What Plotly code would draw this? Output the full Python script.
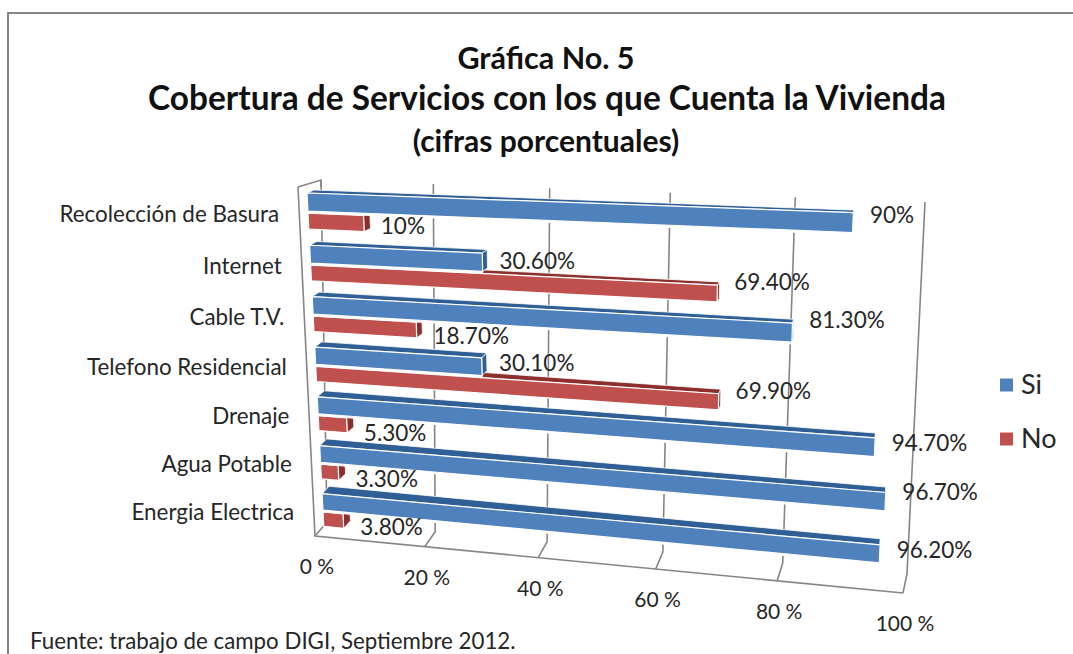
import numpy as np
import plotly.graph_objects as go

categories = ["Recolección de Basura", "Internet", "Cable T.V.", "Telefono Residencial",
              "Drenaje", "Agua Potable", "Energia Electrica"]
si_values = [90, 30.6, 81.3, 30.1, 94.7, 96.7, 96.2]
no_values = [10, 69.4, 18.7, 69.9, 5.3, 3.3, 3.8]
si_labels = ["90%", "30.60%", "81.30%", "30.10%", "94.70%", "96.70%", "96.20%"]
no_labels = ["10%", "69.40%", "18.70%", "69.90%", "5.30%", "3.30%", "3.80%"]
axis_ticks = [0, 20, 40, 60, 80, 100]

# manual nudges of the data labels, the original chart has them hand placed
si_label_dy = [-5, 1, -10, -1, -1, -7, -1]
no_label_dy = [5, -9, 9, -8, 10, 9, 9]

BLUE, BLUE_DARK = "#4f81bd", "#2f5f95"
RED, RED_DARK = "#c0504d", "#8c2f2d"
GREY = "#868686"
TEXT = "#262626"
FONT = "Lato"
N = len(categories)


def plane(tl, tr, br, bl):
    # homography from the unit square to a quad on the page
    src = [(0, 0), (1, 0), (1, 1), (0, 1)]
    a, b = [], []
    for (u, v), (x, y) in zip(src, [tl, tr, br, bl]):
        a.append([u, v, 1, 0, 0, 0, -u * x, -v * x])
        a.append([0, 0, 0, u, v, 1, -u * y, -v * y])
        b += [x, y]
    h = np.append(np.linalg.solve(np.array(a, float), np.array(b, float)), 1).reshape(3, 3)

    def project(u, v):
        p = h @ np.array([u, v, 1.0])
        return p[0] / p[2], p[1] / p[2]
    return project


wall = plane((321, 180), (925, 202), (907, 574), (327, 522))
bar_plane = plane((307, 193), (921, 215), (902, 599), (324.5, 541))


def bars(u, s):
    return bar_plane(u, s / N)


def floor_front(u):
    # front edge of the floor, a short step out from the foot of the wall
    x, y = wall(u, 1)
    return x - 12 + 8 * u, y + 14 + 5 * u


fig = go.Figure()


def line(xs, ys, width=1.6):
    fig.add_trace(go.Scatter(x=xs, y=ys, mode="lines", line=dict(color=GREY, width=width),
                             hoverinfo="skip", showlegend=False))


def poly(pts, color, edge=None, width=1):
    xs, ys = zip(*pts)
    fig.add_trace(go.Scatter(x=list(xs) + [xs[0]], y=list(ys) + [ys[0]], mode="lines", fill="toself",
                             fillcolor=color, line=dict(color=edge or color, width=width),
                             hoverinfo="skip", showlegend=False))


def text(x, y, s, size, anchor="middle center", color=TEXT, bold=False):
    fig.add_trace(go.Scatter(x=[x], y=[y], mode="text", text=[f"<b>{s}</b>" if bold else s],
                             textposition=anchor, hoverinfo="skip", showlegend=False,
                             textfont=dict(family=FONT, size=size, color=color)))


def bar(row, start, end, value, face, dark):
    u = value / 100
    s0, s1 = row + start, row + end

    # depth of the bar shrinks to the right and grows for the lower rows
    def back(uu, ss):
        x, y = bars(uu, ss)
        return x + 7 * (1 - uu), y - (3 + 0.75 * row) * (1 - 0.2 * uu)
    poly([bars(0, s0), bars(u, s0), back(u, s0), back(0, s0)], dark, "white", 0.8)
    poly([bars(u, s0), bars(u, s1), back(u, s1), back(u, s0)], dark, "white", 0.8)
    poly([bars(0, s0), bars(u, s0), bars(u, s1), bars(0, s1)], face, "white", 1.2)


# walls and gridlines
for t in axis_ticks:
    u = t / 100
    a, b, c = floor_front(u), wall(u, 1), wall(u, 0)
    line([a[0], b[0], c[0]], [a[1], b[1], c[1]])
front_l, front_r = floor_front(0), floor_front(1)
line([298, front_l[0], front_r[0]], [187, front_l[1], front_r[1]])
line([298, 321, 321], [187, 180, 187])

for i in range(N):
    # red goes first, the body of the blue bar hides the top of the red one
    bar(i, 0.385, 0.69, no_values[i], RED, RED_DARK)
    u = si_values[i] / 100
    poly([bars(0, i + 0.345), bars(u, i + 0.345), bars(u, i + 0.38), bars(0, i + 0.38)], "white")
    bar(i, 0, 0.345, si_values[i], BLUE, BLUE_DARK)

# data labels
for i in range(N):
    x, y = bars(si_values[i] / 100, i + 0.165)
    text(x + 17, y + si_label_dy[i], si_labels[i], 22.5, "middle right")
    x, y = bars(no_values[i] / 100, i + 0.53)
    text(x + 17, y + no_label_dy[i], no_labels[i], 22.5, "middle right")
    x, y = bars(0, i + 0.44)
    text(x - 29, y, categories[i], 22.4, "middle left")

for t in axis_ticks:
    x, y = floor_front(t / 100)
    text(x + 2, y + 33, f"{t} %", 21)

text(546, 61, "Gráfica No. 5", 30.5, bold=True, color="#111111")
text(547, 102, "Cobertura de Servicios con los que Cuenta la Vivienda", 33.4, bold=True, color="#111111")
text(546, 144, "(cifras porcentuales)", 30, bold=True, color="#111111")
text(30, 643, "Fuente: trabajo de campo DIGI, Septiembre 2012.", 22.3, "middle right")

# legend
for y, name, color in [(385, "Si", BLUE), (439, "No", RED)]:
    fig.add_trace(go.Scatter(x=[1006.5], y=[y], mode="markers", marker=dict(symbol="square", size=13, color=color),
                             hoverinfo="skip", showlegend=False))
    text(1021, y + 2, name, 27, "middle right")

fig.add_shape(type="rect", x0=8, y0=13, x1=1090, y1=680, line=dict(color=GREY, width=2), layer="below")
fig.update_layout(width=1073, height=654, margin=dict(l=0, r=0, t=0, b=0), plot_bgcolor="white",
                  paper_bgcolor="white", showlegend=False)
fig.update_xaxes(range=[0, 1073], visible=False)
fig.update_yaxes(range=[654, 0], visible=False)
fig.write_html("out.html", config={"displayModeBar": False},
               post_script="document.body.style.margin='0';document.body.style.overflow='hidden';")
